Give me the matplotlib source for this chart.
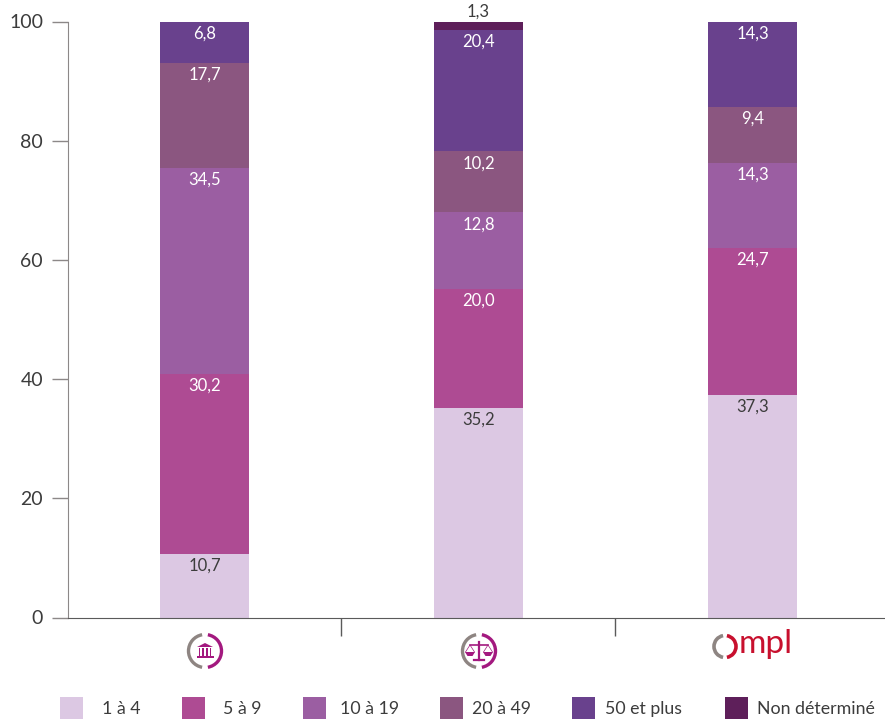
import matplotlib
matplotlib.use('Agg')
import matplotlib.pyplot as plt
from matplotlib.patches import Arc, Rectangle, Polygon

plt.rcParams['font.family'] = ['Lato', 'DejaVu Sans']

groups = ['Juridictions', 'Justice', 'Ompl']
categories = ['1 à 4', '5 à 9', '10 à 19', '20 à 49', '50 et plus', 'Non déterminé']
colors = ['#DCC8E3', '#AE4B93', '#9B5EA2', '#8B5680', '#69418D', '#5E1F5A']
label_colors = ['#3C3C3C', 'white', 'white', 'white', 'white', '#3C3C3C']

v_1a4 = [10.7, 35.2, 37.3]
v_5a9 = [30.2, 20.0, 24.7]
v_10a19 = [34.5, 12.8, 14.3]
v_20a49 = [17.7, 10.2, 9.4]
v_50plus = [6.8, 20.4, 14.3]
v_nd = [0, 1.3, 0]
series = [v_1a4, v_5a9, v_10a19, v_20a49, v_50plus, v_nd]

yticks = [0, 20, 40, 60, 80, 100]

W, H = 885, 719
TXT = '#3C3C3C'
AXC = '#8C8888'
GRAY = '#8E8582'
PURP = '#A3197F'
RED = '#C8102E'

fig = plt.figure(figsize=(W / 100, H / 100), dpi=100)
ax = fig.add_axes([68 / W, 1 - 617.5 / H, 822 / W, 596 / H])

bottoms = [0, 0, 0]
for s, vals in enumerate(series):
  ax.bar(range(3), vals, 0.325, bottom=bottoms, color=colors[s], linewidth=0, zorder=2)
  for i, v in enumerate(vals):
    if v == 0:
      continue
    top = bottoms[i] + v
    # small top slice has its label sitting above the bar
    ypos = top + 1.8 if v < 2 else top - 2.0
    ax.text(i, ypos, ('%.1f' % v).replace('.', ','), ha='center', va='center',
            fontsize=12, color=label_colors[s], clip_on=False, zorder=3)
    bottoms[i] = top

ax.set_xlim(-0.498, 2.502)
ax.set_ylim(0, 100)
ax.set_yticks(yticks)
ax.set_xticks([0.5, 1.5])
ax.set_xticklabels([])
ax.tick_params(axis='y', length=11.5, width=1, color=AXC, labelcolor=TXT, labelsize=14, pad=6.5)
ax.tick_params(axis='x', length=13, width=1, color='#5A5A5A')
ax.spines['top'].set_visible(False)
ax.spines['right'].set_visible(False)
ax.spines['left'].set_color(AXC)
ax.spines['bottom'].set_color('#5A5A5A')

# overlay in pixel coords for the logos and the legend
ov = fig.add_axes([0, 0, 1, 1])
ov.axis('off')
ov.patch.set_alpha(0)


def ring(cx, cy, r, right, lw=2.4):
  ov.add_patch(Arc((cx, cy), 2 * r, 2 * r, theta1=100, theta2=260, color=GRAY, lw=lw))
  ov.add_patch(Arc((cx, cy), 2 * r, 2 * r, theta1=-80, theta2=80, color=right, lw=lw))


def bank(cx, cy):
  ov.add_patch(Polygon([(cx - 8, cy - 4), (cx, cy - 8), (cx + 8, cy - 4)], color=PURP, lw=0))
  for dx in [-6.5, -3, 0.8, 4.5]:
    ov.add_patch(Rectangle((cx + dx, cy - 3), 1.8, 7.5, color=PURP, lw=0))
  ov.add_patch(Rectangle((cx - 8.5, cy + 5), 17, 2.2, color=PURP, lw=0))


def scales(cx, cy):
  ov.plot([cx, cx], [cy - 9, cy + 9], color=PURP, lw=1.6)
  ov.plot([cx - 5, cx + 5], [cy + 9, cy + 9], color=PURP, lw=1.6)
  ov.plot([cx - 9, cx + 9], [cy - 6, cy - 6], color=PURP, lw=1.2)
  for sx in [cx - 9, cx + 9]:
    ov.add_patch(Polygon([(sx - 5, cy + 1), (sx + 5, cy + 1), (sx + 2.5, cy + 5), (sx - 2.5, cy + 5)], color=PURP, lw=0))
    ov.plot([sx - 4.5, sx, sx + 4.5], [cy + 1, cy - 6, cy + 1], color=PURP, lw=0.5)


ring(205, 651, 16.5, PURP)
bank(205, 651)
ring(479, 651, 16.5, PURP)
scales(479, 651)
ring(725, 646.5, 11, RED, lw=2.6)
ov.text(739, 644, 'mpl', color=RED, fontsize=24, ha='left', va='center')

leg_sq_x = [60, 182, 303, 440, 572, 725]
leg_txt_x = [102, 223, 340, 472, 605, 757]
for s, cat in enumerate(categories):
  ov.add_patch(Rectangle((leg_sq_x[s], 697), 23, 22, color=colors[s], lw=0))
  ov.text(leg_txt_x[s], 709, cat, color=TXT, fontsize=12.8, ha='left', va='center')

ov.set_xlim(0, W)
ov.set_ylim(H, 0)

fig.savefig('out.png', dpi=100)
